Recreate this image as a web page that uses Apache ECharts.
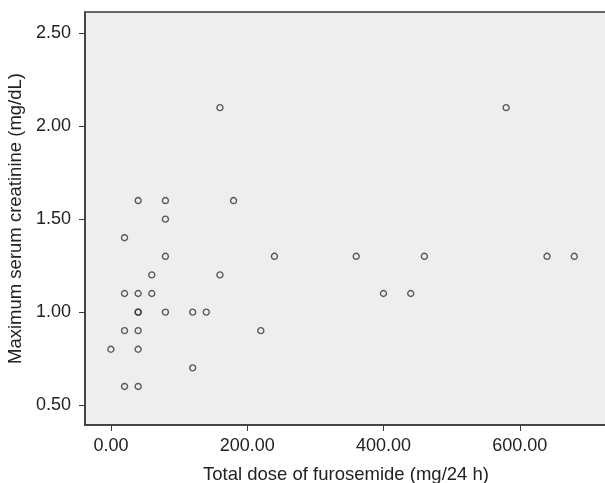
<!DOCTYPE html>
<html>
<head>
<meta charset="utf-8">
<script src="https://cdn.jsdelivr.net/npm/echarts@6/dist/echarts.min.js"></script>
<style>
html,body{margin:0;padding:0;background:#fff;}
#c{width:605px;height:483px;}
</style>
</head>
<body>
<div id="c"></div>
<script>
// furosemide dose (mg/24 h)
const doseValues = [0, 20, 20, 20, 20, 40, 40, 40, 40, 40, 40, 40, 60, 60, 80, 80, 80, 80, 120, 120, 140, 160, 160, 180, 220, 240, 360, 400, 440, 460, 580, 640, 680];
// maximum serum creatinine (mg/dL)
const creatValues = [0.8, 1.4, 1.1, 0.9, 0.6, 1.6, 1.1, 1.0, 1.0, 0.9, 0.8, 0.6, 1.2, 1.1, 1.6, 1.5, 1.3, 1.0, 1.0, 0.7, 1.0, 2.1, 1.2, 1.6, 0.9, 1.3, 1.3, 1.1, 1.1, 1.3, 2.1, 1.3, 1.3];
const xTicks = [0, 200, 400, 600];
const yTicks = [0.5, 1.0, 1.5, 2.0, 2.5];
const xTitle = 'Total dose of furosemide (mg/24 h)';
const yTitle = 'Maximum serum creatinine (mg/dL)';

const points = doseValues.map((d, i) => [d, creatValues[i]]);
const chart = echarts.init(document.getElementById('c'), null, {renderer: 'canvas'});
const font = 'Liberation Sans, Arial, Helvetica, sans-serif';
const axisCol = '#3a3a3a';
chart.setOption({
  animation: false,
  backgroundColor: '#ffffff',
  grid: {
    left: 85, right: -2, top: 12, bottom: 58,
    outerBoundsMode: 'none', containLabel: false,
    show: true, backgroundColor: '#eeeeee',
    borderColor: axisCol, borderWidth: 1.5
  },
  xAxis: {
    type: 'value', min: -38, max: 728,
    name: xTitle, nameLocation: 'middle', nameGap: 40,
    nameTextStyle: {fontFamily: font, fontSize: 18.5, color: '#222'},
    splitLine: {show: false},
    axisLine: {show: true, onZero: false, lineStyle: {color: axisCol, width: 1.5}},
    axisTick: {show: true, length: 6, customValues: xTicks, lineStyle: {color: axisCol, width: 1}},
    axisLabel: {customValues: xTicks, margin: 12, fontFamily: font, fontSize: 18, color: '#222',
      formatter: v => v.toFixed(2)}
  },
  yAxis: {
    type: 'value', min: 0.3925, max: 2.6145,
    name: yTitle, nameLocation: 'middle', nameGap: 56,
    nameTextStyle: {fontFamily: font, fontSize: 18.5, color: '#222'},
    splitLine: {show: false},
    axisLine: {show: true, onZero: false, lineStyle: {color: axisCol, width: 1.5}},
    axisTick: {show: true, length: 6, customValues: yTicks, lineStyle: {color: axisCol, width: 1}},
    axisLabel: {customValues: yTicks, margin: 14, fontFamily: font, fontSize: 18, color: '#222',
      formatter: v => v.toFixed(2)}
  },
  series: [{
    type: 'scatter',
    data: points,
    symbol: 'circle',
    symbolSize: 6,
    itemStyle: {color: 'rgba(0,0,0,0)', borderColor: '#333', borderWidth: 1.4}
  }]
});
</script>
</body>
</html>
